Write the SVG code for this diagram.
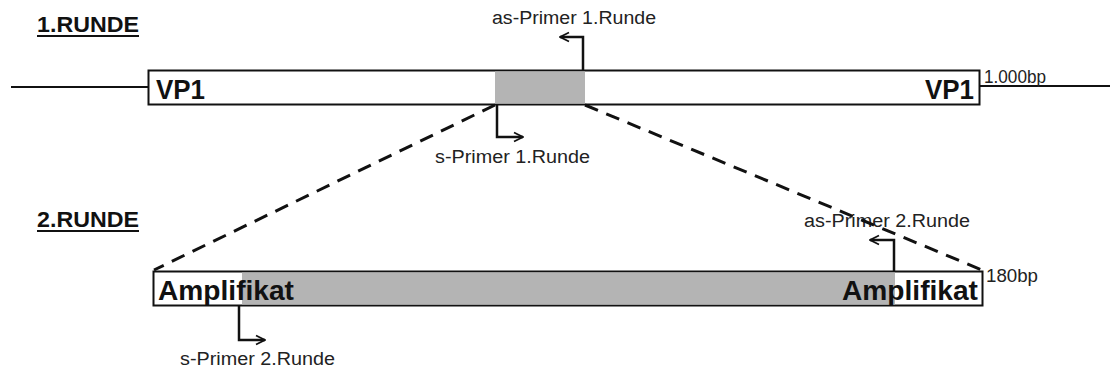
<svg xmlns="http://www.w3.org/2000/svg" width="1110" height="371" viewBox="0 0 1110 371">
  <defs>
    <style>
      .title { font-family: "Liberation Sans", Arial, sans-serif; font-weight: bold; font-size: 22px; fill: #111; }
      .label { font-family: "Liberation Sans", Arial, sans-serif; font-weight: bold; font-size: 27px; fill: #111; }
      .small { font-family: "Liberation Sans", Arial, sans-serif; font-size: 18px; fill: #222; }
      .box { fill: #fff; stroke: #111; stroke-width: 2; }
      .hl { fill: #b4b4b4; }
      .wire { stroke: #111; stroke-width: 2; fill: none; }
      .dash { stroke: #111; stroke-width: 3; stroke-dasharray: 14 9; fill: none; }
      .primer { stroke: #111; stroke-width: 2.5; fill: none; marker-end: url(#open); }
    </style>
    <marker id="open" viewBox="0 0 10 10" refX="9" refY="5" markerWidth="4.5" markerHeight="4.5" orient="auto" markerUnits="strokeWidth">
      <path d="M1,1 L9,5 L1,9" fill="none" stroke="#111" stroke-width="1.6"/>
    </marker>
  </defs>

  <!-- round headings -->
  <g id="heading1">
    <text class="title" x="37" y="32" textLength="102" lengthAdjust="spacingAndGlyphs">1.RUNDE</text>
    <line x1="37" y1="36" x2="139" y2="36" stroke="#111" stroke-width="2"/>
  </g>
  <g id="heading2">
    <text class="title" x="37" y="227" textLength="102" lengthAdjust="spacingAndGlyphs">2.RUNDE</text>
    <line x1="37" y1="231" x2="139" y2="231" stroke="#111" stroke-width="2"/>
  </g>

  <!-- template strand with VP1 region -->
  <g id="vp1">
    <line class="wire" x1="11" y1="87" x2="149" y2="87"/>
    <line class="wire" x1="980" y1="86" x2="1110" y2="86"/>
    <rect class="box" x="148.5" y="70.5" width="831" height="34"/>
    <rect class="hl" x="495" y="71.5" width="90" height="32"/>
    <text class="label" x="156" y="99" textLength="49" lengthAdjust="spacingAndGlyphs">VP1</text>
    <text class="label" x="974" y="99" text-anchor="end" textLength="49" lengthAdjust="spacingAndGlyphs">VP1</text>
    <text class="small" x="984" y="83" textLength="62" lengthAdjust="spacingAndGlyphs">1.000bp</text>
  </g>

  <!-- nested amplicon -->
  <g id="amplifikat">
    <rect class="box" x="153.5" y="271.5" width="829" height="34"/>
    <rect class="hl" x="242" y="272.5" width="653" height="32"/>
    <text class="label" x="158" y="300" textLength="136" lengthAdjust="spacingAndGlyphs">Amplifikat</text>
    <text class="label" x="978" y="300" text-anchor="end" textLength="136" lengthAdjust="spacingAndGlyphs">Amplifikat</text>
    <text class="small" x="986" y="282" textLength="52" lengthAdjust="spacingAndGlyphs">180bp</text>
  </g>

  <!-- primer labels -->
  <g id="as-primer-1">
    <text class="small" x="492" y="24" textLength="164" lengthAdjust="spacingAndGlyphs">as-Primer 1.Runde</text>
  </g>
  <g id="s-primer-1">
    <text class="small" x="435" y="163" textLength="155" lengthAdjust="spacingAndGlyphs">s-Primer 1.Runde</text>
  </g>
  <g id="as-primer-2">
    <text class="small" x="804" y="227" textLength="166" lengthAdjust="spacingAndGlyphs">as-Primer 2.Runde</text>
  </g>
  <g id="s-primer-2">
    <text class="small" x="180" y="365" textLength="155" lengthAdjust="spacingAndGlyphs">s-Primer 2.Runde</text>
  </g>

  <!-- connectors: zoom lines and primer arrows -->
  <g id="connectors">
    <line class="dash" x1="495" y1="105" x2="154" y2="270"/>
    <line class="dash" x1="585" y1="105" x2="982" y2="270"/>
    <path class="primer" d="M583,70 V37 H560"/>
    <path class="primer" d="M497,105 V137 H523"/>
    <path class="primer" d="M894,271 V240 H870"/>
    <path class="primer" d="M239,306 V340 H265"/>
  </g>
</svg>
